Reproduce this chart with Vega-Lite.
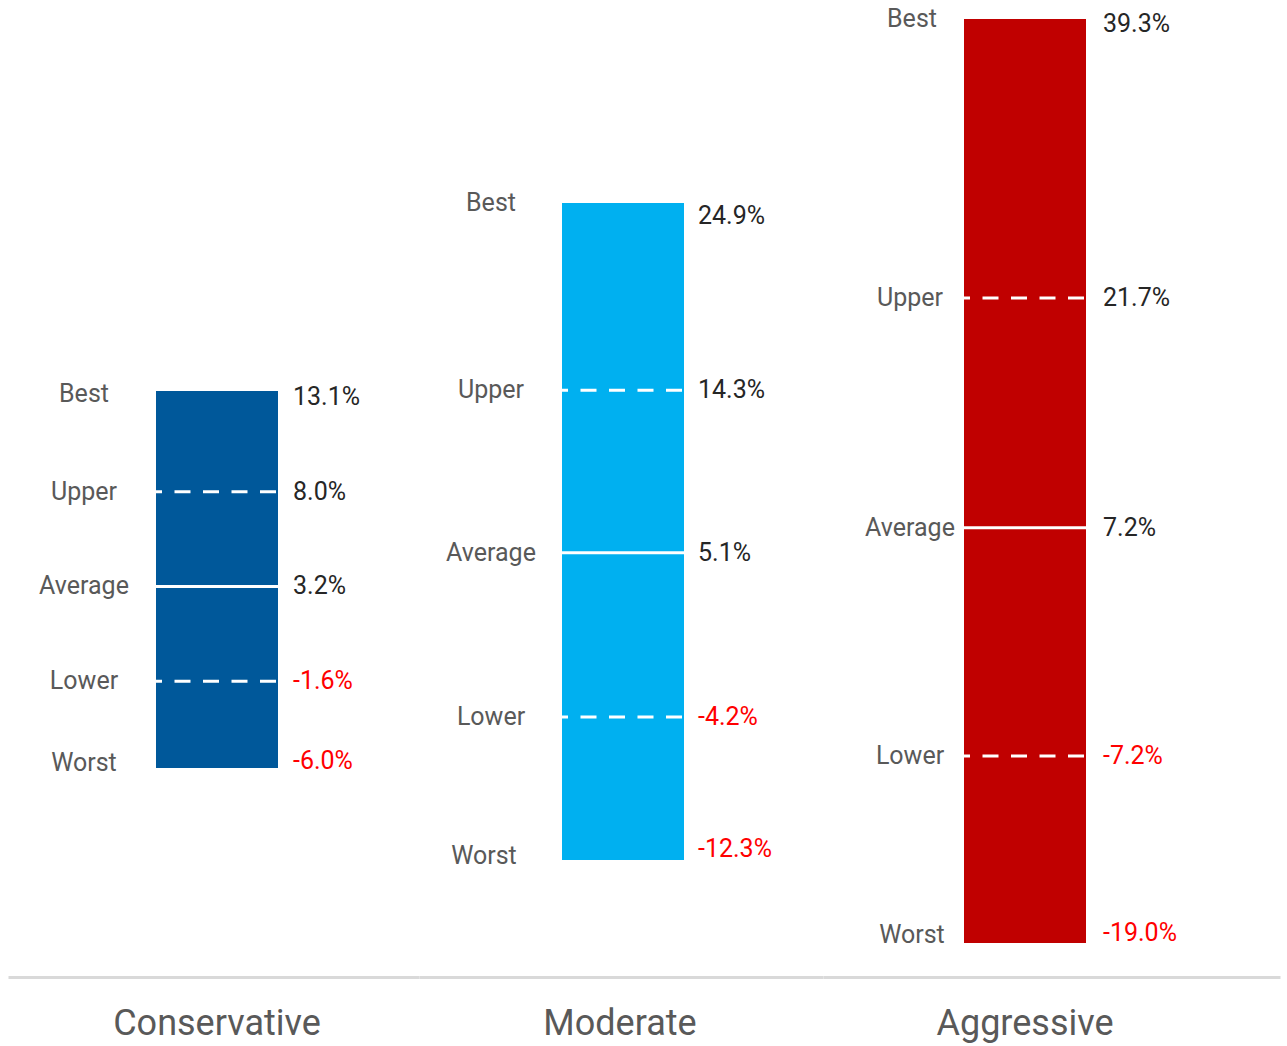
{
  "$schema": "https://vega.github.io/schema/vega-lite/v6.json",
  "padding": {"left": 8, "top": 2, "right": 5, "bottom": 3},
  "background": "white",
  "datasets": {
    "returns": [
      {"portfolio": "Conservative", "level": "Best", "value": 0.131},
      {"portfolio": "Conservative", "level": "Upper", "value": 0.080},
      {"portfolio": "Conservative", "level": "Average", "value": 0.032},
      {"portfolio": "Conservative", "level": "Lower", "value": -0.016},
      {"portfolio": "Conservative", "level": "Worst", "value": -0.060},
      {"portfolio": "Moderate", "level": "Best", "value": 0.249},
      {"portfolio": "Moderate", "level": "Upper", "value": 0.143},
      {"portfolio": "Moderate", "level": "Average", "value": 0.051},
      {"portfolio": "Moderate", "level": "Lower", "value": -0.042},
      {"portfolio": "Moderate", "level": "Worst", "value": -0.123},
      {"portfolio": "Aggressive", "level": "Best", "value": 0.393},
      {"portfolio": "Aggressive", "level": "Upper", "value": 0.217},
      {"portfolio": "Aggressive", "level": "Average", "value": 0.072},
      {"portfolio": "Aggressive", "level": "Lower", "value": -0.072},
      {"portfolio": "Aggressive", "level": "Worst", "value": -0.190}
    ]
  },
  "data": {"name": "returns"},
  "spacing": 0,
  "bounds": "flush",
  "resolve": {"scale": {"x": "independent", "y": "independent"}},
  "hconcat": [
    {
      "width": 411, "height": 975,
      "transform": [{"filter": {"field": "portfolio", "equal": "Conservative"}}],
      "encoding": {
        "x": {"field": "portfolio", "type": "nominal", "title": null,
          "scale": {"type": "band", "paddingInner": 0.54221, "paddingOuter": 0.54221, "align": 0.5121},
          "axis": {"domainColor": "#D9D9D9", "domainWidth": 3, "ticks": false, "tickSize": 0, "labelAngle": 0, "labelFontSize": 36, "labelColor": "#595959", "labelPadding": 29, "labelLimit": 0, "labelFont": "Roboto", "labelBaseline": "top"}}
      },
      "layer": [
        {"mark": {"type": "bar", "color": "#00589A"},
         "encoding": {
           "y": {"aggregate": "max", "field": "value", "type": "quantitative", "axis": null, "title": null, "scale": {"domain": [-0.16589, 0.32808], "nice": false, "zero": false}},
           "y2": {"aggregate": "min", "field": "value"}}},
        {"transform": [{"filter": {"field": "level", "oneOf": ["Upper", "Lower"]}}],
         "mark": {"type": "rule", "color": "white", "strokeWidth": 3, "strokeDash": [16, 12.5], "strokeDashOffset": 10},
         "encoding": {"x": {"field": "portfolio", "type": "nominal", "bandPosition": 0, "title": null}, "x2": {"field": "portfolio", "bandPosition": 1}, "y": {"field": "value", "type": "quantitative", "axis": null, "title": null}}},
        {"transform": [{"filter": {"field": "level", "equal": "Average"}}],
         "mark": {"type": "rule", "color": "white", "strokeWidth": 3},
         "encoding": {"x": {"field": "portfolio", "type": "nominal", "bandPosition": 0, "title": null}, "x2": {"field": "portfolio", "bandPosition": 1}, "y": {"field": "value", "type": "quantitative", "axis": null, "title": null}}},
        {"transform": [{"filter": {"field": "level", "equal": "Best"}}],
         "mark": {"type": "text", "align": "center", "baseline": "middle", "dx": -72, "dy": 3, "fontSize": 25, "color": "#595959"},
         "encoding": {"x": {"field": "portfolio", "type": "nominal", "bandPosition": 0, "title": null}, "y": {"field": "value", "type": "quantitative", "axis": null, "title": null}, "text": {"field": "level"}}},
        {"transform": [{"filter": {"field": "level", "oneOf": ["Upper", "Average", "Lower"]}}],
         "mark": {"type": "text", "align": "center", "baseline": "middle", "dx": -72, "dy": 0, "fontSize": 25, "color": "#595959"},
         "encoding": {"x": {"field": "portfolio", "type": "nominal", "bandPosition": 0, "title": null}, "y": {"field": "value", "type": "quantitative", "axis": null, "title": null}, "text": {"field": "level"}}},
        {"transform": [{"filter": {"field": "level", "equal": "Worst"}}],
         "mark": {"type": "text", "align": "center", "baseline": "middle", "dx": -72, "dy": -5, "fontSize": 25, "color": "#595959"},
         "encoding": {"x": {"field": "portfolio", "type": "nominal", "bandPosition": 0, "title": null}, "y": {"field": "value", "type": "quantitative", "axis": null, "title": null}, "text": {"field": "level"}}},
        {"transform": [{"filter": {"field": "level", "equal": "Best"}}],
         "mark": {"type": "text", "align": "left", "baseline": "middle", "dx": 15, "dy": 6, "fontSize": 25},
         "encoding": {"x": {"field": "portfolio", "type": "nominal", "bandPosition": 1, "title": null}, "y": {"field": "value", "type": "quantitative", "axis": null, "title": null}, "text": {"field": "value", "type": "quantitative", "format": ".1%"},
           "color": {"condition": {"test": "datum.value < 0", "value": "#FF0000"}, "value": "#262626"}}},
        {"transform": [{"filter": {"field": "level", "oneOf": ["Upper", "Average", "Lower"]}}],
         "mark": {"type": "text", "align": "left", "baseline": "middle", "dx": 15, "dy": 0, "fontSize": 25},
         "encoding": {"x": {"field": "portfolio", "type": "nominal", "bandPosition": 1, "title": null}, "y": {"field": "value", "type": "quantitative", "axis": null, "title": null}, "text": {"field": "value", "type": "quantitative", "format": ".1%"},
           "color": {"condition": {"test": "datum.value < 0", "value": "#FF0000"}, "value": "#262626"}}},
        {"transform": [{"filter": {"field": "level", "equal": "Worst"}}],
         "mark": {"type": "text", "align": "left", "baseline": "middle", "dx": 15, "dy": -7, "fontSize": 25},
         "encoding": {"x": {"field": "portfolio", "type": "nominal", "bandPosition": 1, "title": null}, "y": {"field": "value", "type": "quantitative", "axis": null, "title": null}, "text": {"field": "value", "type": "quantitative", "format": ".1%"},
           "color": {"condition": {"test": "datum.value < 0", "value": "#FF0000"}, "value": "#262626"}}}
      ]
    },
    {
      "width": 404, "height": 975,
      "transform": [{"filter": {"field": "portfolio", "equal": "Moderate"}}],
      "encoding": {
        "x": {"field": "portfolio", "type": "nominal", "title": null,
          "scale": {"type": "band", "paddingInner": 0.53612, "paddingOuter": 0.53612, "align": 0.5071},
          "axis": {"domainColor": "#D9D9D9", "domainWidth": 3, "ticks": false, "tickSize": 0, "labelAngle": 0, "labelFontSize": 36, "labelColor": "#595959", "labelPadding": 29, "labelLimit": 0, "labelFont": "Roboto", "labelBaseline": "top", "labelOffset": -3}}
      },
      "layer": [
        {"mark": {"type": "bar", "color": "#00B0F0"},
         "encoding": {
           "y": {"aggregate": "max", "field": "value", "type": "quantitative", "axis": null, "title": null, "scale": {"domain": [-0.18926, 0.36281], "nice": false, "zero": false}},
           "y2": {"aggregate": "min", "field": "value"}}},
        {"transform": [{"filter": {"field": "level", "oneOf": ["Upper", "Lower"]}}],
         "mark": {"type": "rule", "color": "white", "strokeWidth": 3, "strokeDash": [16, 12.5], "strokeDashOffset": 10},
         "encoding": {"x": {"field": "portfolio", "type": "nominal", "bandPosition": 0, "title": null}, "x2": {"field": "portfolio", "bandPosition": 1}, "y": {"field": "value", "type": "quantitative", "axis": null, "title": null}}},
        {"transform": [{"filter": {"field": "level", "equal": "Average"}}],
         "mark": {"type": "rule", "color": "white", "strokeWidth": 3},
         "encoding": {"x": {"field": "portfolio", "type": "nominal", "bandPosition": 0, "title": null}, "x2": {"field": "portfolio", "bandPosition": 1}, "y": {"field": "value", "type": "quantitative", "axis": null, "title": null}}},
        {"transform": [{"filter": {"field": "level", "equal": "Best"}}],
         "mark": {"type": "text", "align": "center", "baseline": "middle", "dx": -71, "dy": 0, "fontSize": 25, "color": "#595959"},
         "encoding": {"x": {"field": "portfolio", "type": "nominal", "bandPosition": 0, "title": null}, "y": {"field": "value", "type": "quantitative", "axis": null, "title": null}, "text": {"field": "level"}}},
        {"transform": [{"filter": {"field": "level", "oneOf": ["Upper", "Average", "Lower"]}}],
         "mark": {"type": "text", "align": "center", "baseline": "middle", "dx": -71, "dy": 0, "fontSize": 25, "color": "#595959"},
         "encoding": {"x": {"field": "portfolio", "type": "nominal", "bandPosition": 0, "title": null}, "y": {"field": "value", "type": "quantitative", "axis": null, "title": null}, "text": {"field": "level"}}},
        {"transform": [{"filter": {"field": "level", "equal": "Worst"}}],
         "mark": {"type": "text", "align": "center", "baseline": "middle", "dx": -78, "dy": -4, "fontSize": 25, "color": "#595959"},
         "encoding": {"x": {"field": "portfolio", "type": "nominal", "bandPosition": 0, "title": null}, "y": {"field": "value", "type": "quantitative", "axis": null, "title": null}, "text": {"field": "level"}}},
        {"transform": [{"filter": {"field": "level", "equal": "Best"}}],
         "mark": {"type": "text", "align": "left", "baseline": "middle", "dx": 14, "dy": 13, "fontSize": 25},
         "encoding": {"x": {"field": "portfolio", "type": "nominal", "bandPosition": 1, "title": null}, "y": {"field": "value", "type": "quantitative", "axis": null, "title": null}, "text": {"field": "value", "type": "quantitative", "format": ".1%"},
           "color": {"condition": {"test": "datum.value < 0", "value": "#FF0000"}, "value": "#262626"}}},
        {"transform": [{"filter": {"field": "level", "oneOf": ["Upper", "Average", "Lower"]}}],
         "mark": {"type": "text", "align": "left", "baseline": "middle", "dx": 14, "dy": 0, "fontSize": 25},
         "encoding": {"x": {"field": "portfolio", "type": "nominal", "bandPosition": 1, "title": null}, "y": {"field": "value", "type": "quantitative", "axis": null, "title": null}, "text": {"field": "value", "type": "quantitative", "format": ".1%"},
           "color": {"condition": {"test": "datum.value < 0", "value": "#FF0000"}, "value": "#262626"}}},
        {"transform": [{"filter": {"field": "level", "equal": "Worst"}}],
         "mark": {"type": "text", "align": "left", "baseline": "middle", "dx": 14, "dy": -11, "fontSize": 25},
         "encoding": {"x": {"field": "portfolio", "type": "nominal", "bandPosition": 1, "title": null}, "y": {"field": "value", "type": "quantitative", "axis": null, "title": null}, "text": {"field": "value", "type": "quantitative", "format": ".1%"},
           "color": {"condition": {"test": "datum.value < 0", "value": "#FF0000"}, "value": "#262626"}}}
      ]
    },
    {
      "width": 457, "height": 975,
      "transform": [{"filter": {"field": "portfolio", "equal": "Aggressive"}}],
      "encoding": {
        "x": {"field": "portfolio", "type": "nominal", "title": null,
          "scale": {"type": "band", "paddingInner": 0.57858, "paddingOuter": 0.57858, "align": 0.4209},
          "axis": {"domainColor": "#D9D9D9", "domainWidth": 3, "ticks": false, "tickSize": 0, "labelAngle": 0, "labelFontSize": 36, "labelColor": "#595959", "labelPadding": 29, "labelLimit": 0, "labelFont": "Roboto", "labelBaseline": "top"}}
      },
      "layer": [
        {"mark": {"type": "bar", "color": "#C00000"},
         "encoding": {
           "y": {"aggregate": "max", "field": "value", "type": "quantitative", "axis": null, "title": null, "scale": {"domain": [-0.21146, 0.40372], "nice": false, "zero": false}},
           "y2": {"aggregate": "min", "field": "value"}}},
        {"transform": [{"filter": {"field": "level", "oneOf": ["Upper", "Lower"]}}],
         "mark": {"type": "rule", "color": "white", "strokeWidth": 3, "strokeDash": [16, 12.5], "strokeDashOffset": 10},
         "encoding": {"x": {"field": "portfolio", "type": "nominal", "bandPosition": 0, "title": null}, "x2": {"field": "portfolio", "bandPosition": 1}, "y": {"field": "value", "type": "quantitative", "axis": null, "title": null}}},
        {"transform": [{"filter": {"field": "level", "equal": "Average"}}],
         "mark": {"type": "rule", "color": "white", "strokeWidth": 3},
         "encoding": {"x": {"field": "portfolio", "type": "nominal", "bandPosition": 0, "title": null}, "x2": {"field": "portfolio", "bandPosition": 1}, "y": {"field": "value", "type": "quantitative", "axis": null, "title": null}}},
        {"transform": [{"filter": {"field": "level", "equal": "Best"}}],
         "mark": {"type": "text", "align": "center", "baseline": "middle", "dx": -52, "dy": 0, "fontSize": 25, "color": "#595959"},
         "encoding": {"x": {"field": "portfolio", "type": "nominal", "bandPosition": 0, "title": null}, "y": {"field": "value", "type": "quantitative", "axis": null, "title": null}, "text": {"field": "level"}}},
        {"transform": [{"filter": {"field": "level", "oneOf": ["Upper", "Average", "Lower"]}}],
         "mark": {"type": "text", "align": "center", "baseline": "middle", "dx": -54, "dy": 0, "fontSize": 25, "color": "#595959"},
         "encoding": {"x": {"field": "portfolio", "type": "nominal", "bandPosition": 0, "title": null}, "y": {"field": "value", "type": "quantitative", "axis": null, "title": null}, "text": {"field": "level"}}},
        {"transform": [{"filter": {"field": "level", "equal": "Worst"}}],
         "mark": {"type": "text", "align": "center", "baseline": "middle", "dx": -52, "dy": -8, "fontSize": 25, "color": "#595959"},
         "encoding": {"x": {"field": "portfolio", "type": "nominal", "bandPosition": 0, "title": null}, "y": {"field": "value", "type": "quantitative", "axis": null, "title": null}, "text": {"field": "level"}}},
        {"transform": [{"filter": {"field": "level", "equal": "Best"}}],
         "mark": {"type": "text", "align": "left", "baseline": "middle", "dx": 17, "dy": 5, "fontSize": 25},
         "encoding": {"x": {"field": "portfolio", "type": "nominal", "bandPosition": 1, "title": null}, "y": {"field": "value", "type": "quantitative", "axis": null, "title": null}, "text": {"field": "value", "type": "quantitative", "format": ".1%"},
           "color": {"condition": {"test": "datum.value < 0", "value": "#FF0000"}, "value": "#262626"}}},
        {"transform": [{"filter": {"field": "level", "oneOf": ["Upper", "Average", "Lower"]}}],
         "mark": {"type": "text", "align": "left", "baseline": "middle", "dx": 17, "dy": 0, "fontSize": 25},
         "encoding": {"x": {"field": "portfolio", "type": "nominal", "bandPosition": 1, "title": null}, "y": {"field": "value", "type": "quantitative", "axis": null, "title": null}, "text": {"field": "value", "type": "quantitative", "format": ".1%"},
           "color": {"condition": {"test": "datum.value < 0", "value": "#FF0000"}, "value": "#262626"}}},
        {"transform": [{"filter": {"field": "level", "equal": "Worst"}}],
         "mark": {"type": "text", "align": "left", "baseline": "middle", "dx": 17, "dy": -10, "fontSize": 25},
         "encoding": {"x": {"field": "portfolio", "type": "nominal", "bandPosition": 1, "title": null}, "y": {"field": "value", "type": "quantitative", "axis": null, "title": null}, "text": {"field": "value", "type": "quantitative", "format": ".1%"},
           "color": {"condition": {"test": "datum.value < 0", "value": "#FF0000"}, "value": "#262626"}}}
      ]
    }
  ],
  "config": {
    "view": {"stroke": null},
    "font": "Roboto",
    "locale": {"number": {"decimal": ".", "thousands": ",", "grouping": [3], "currency": ["$", ""], "minus": "-"}}
  }
}
